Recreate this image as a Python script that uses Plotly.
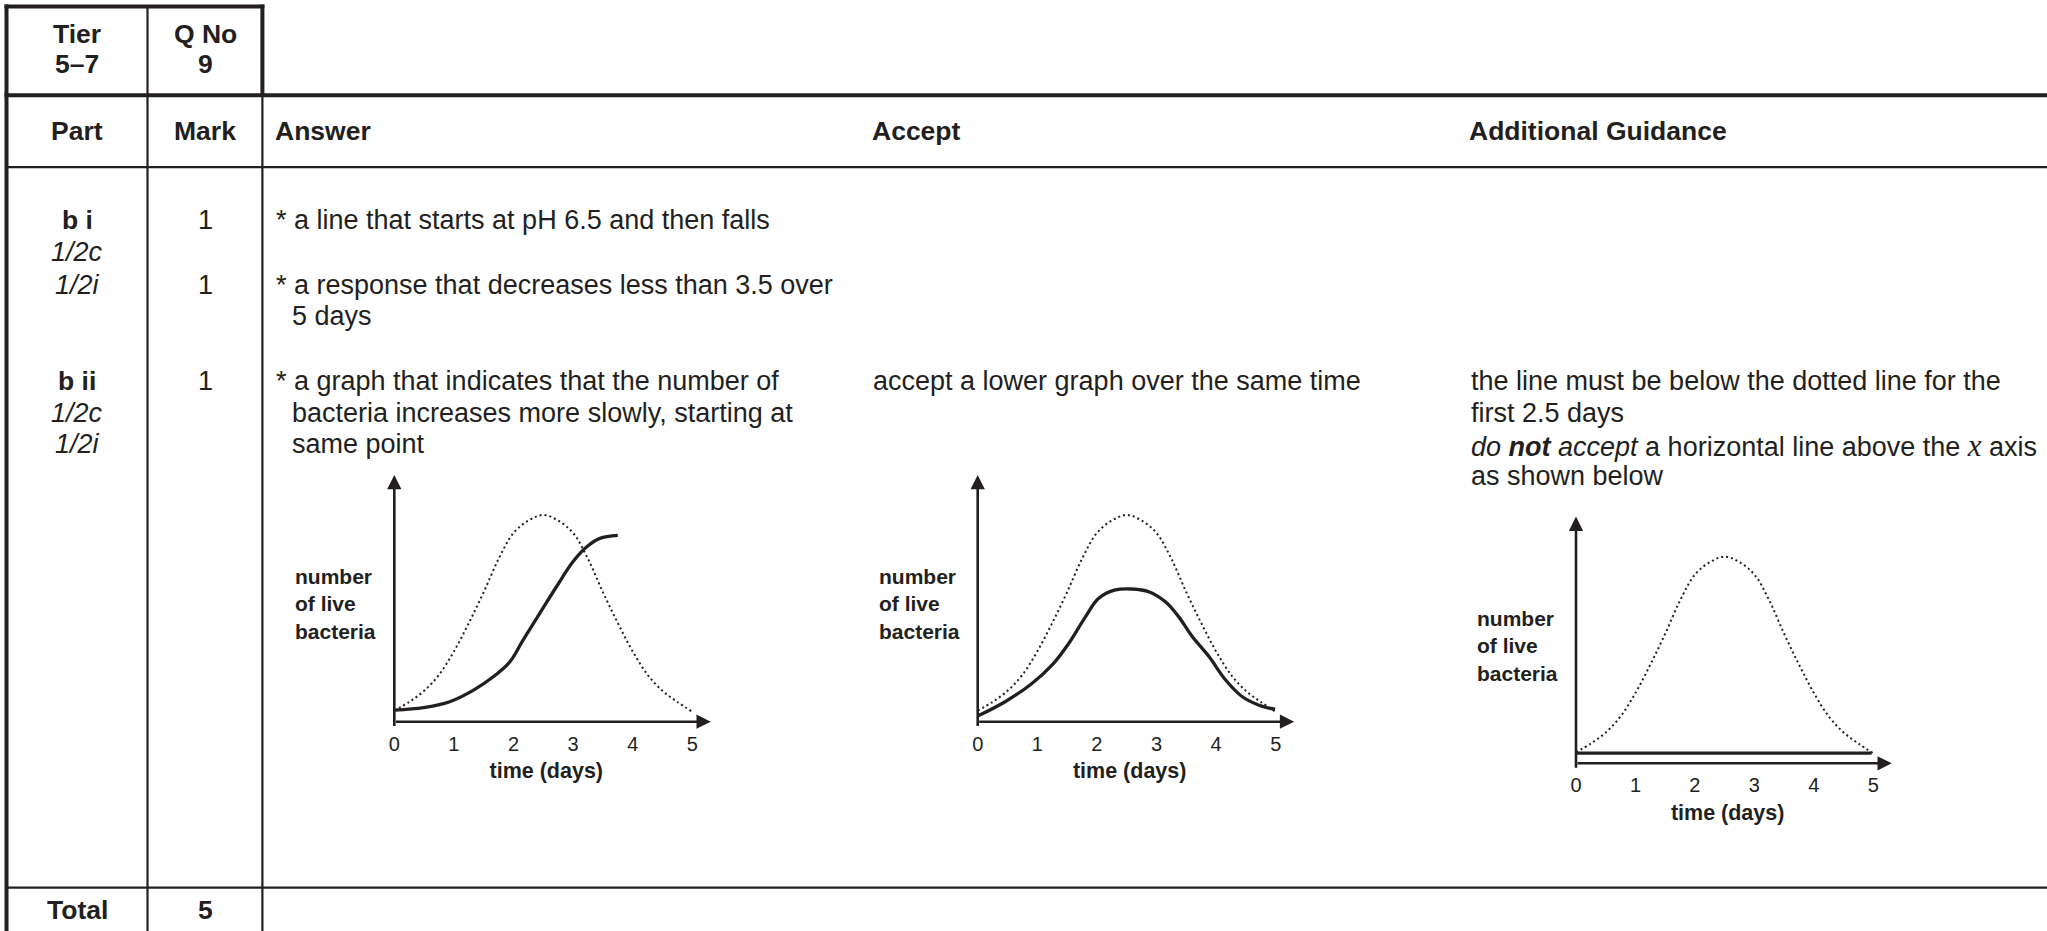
import plotly.graph_objects as go

W, H = 2047, 931
INK = "#231f20"
FONT = "Liberation Sans, Arial, Helvetica, sans-serif"

# ---------------- data ----------------
DAYS = [0, 1, 2, 3, 4, 5]
DAY_LABELS = ["0", "1", "2", "3", "4", "5"]

# dotted reference curve (same in all three sketches)
DOT_X = [0, 0.25, 0.5, 0.75, 1.0, 1.25, 1.5, 1.75, 2.0, 2.25, 2.5,
         2.75, 3.0, 3.25, 3.5, 3.75, 4.0, 4.25, 4.5, 4.75, 5.0]
DOT_Y = [0.45, 0.8, 1.25, 1.9, 2.85, 4.0, 5.25, 6.6, 7.65, 8.15, 8.38,
         8.15, 7.65, 6.6, 5.25, 4.0, 2.85, 1.9, 1.25, 0.8, 0.4]

# solid answer curves
S1_X = [0, 0.49, 0.93, 1.33, 1.66, 1.94, 2.16, 2.44, 2.72, 3.0, 3.23, 3.45, 3.75]
S1_Y = [0.47, 0.57, 0.81, 1.28, 1.82, 2.43, 3.31, 4.39, 5.47, 6.49, 7.09, 7.43, 7.55]

S2_X = [0, 0.46, 0.91, 1.25, 1.53, 1.81, 2.03, 2.31, 2.59, 2.87, 3.15, 3.37,
        3.6, 3.88, 4.16, 4.44, 4.71, 4.99]
S2_Y = [0.23, 0.81, 1.55, 2.3, 3.18, 4.26, 5.0, 5.34, 5.38, 5.27, 4.86, 4.26,
        3.45, 2.64, 1.69, 1.01, 0.68, 0.5]

S3_X = [0, 4.97]
S3_Y = [0.41, 0.41]

X_ARROW_END = 5.31
Y_ARROW_TOP = 10
Y_AXIS_BOTTOM = -0.24

# ---------------- helpers ----------------
def px(x):
    return x / W


def py(y):
    return 1 - y / H


fig = go.Figure()
shapes = []
ann = []


def hline(y, x0, x1, w):
    shapes.append(dict(type="line", xref="paper", yref="paper",
                       x0=px(x0), x1=px(x1), y0=py(y), y1=py(y),
                       line=dict(color=INK, width=w)))


def vline(x, y0, y1, w):
    shapes.append(dict(type="line", xref="paper", yref="paper",
                       x0=px(x), x1=px(x), y0=py(y0), y1=py(y1),
                       line=dict(color=INK, width=w)))


def txt(s, x, y, anchor="left", size=27):
    ann.append(dict(text=s, x=px(x), y=py(y), xref="paper", yref="paper",
                    xanchor=anchor, yanchor="middle", showarrow=False,
                    align="left", font=dict(family=FONT, size=size, color=INK)))


# ---------------- table grid ----------------
THICK, THIN = 4, 2.2
L, T = 6.5, 6.5
C1, C2 = 147.5, 262.4
R1, R2, R3 = 95.3, 167.1, 887.7

vline(L, T - 2, H, THICK)
hline(T, L - 2, C2 + 2, THICK)
vline(C2, T - 2, R1, THICK)
vline(C2, R1, H, THIN)
vline(C1, T, H, THIN)
hline(R1, L - 2, W, THICK)
hline(R2, L, W, THIN)
hline(R3, L, W, THIN)

# ---------------- table text ----------------
HB = 26.5
txt("<b>Tier</b>", 77, 34, "center", HB)
txt("<b>5–7</b>", 77, 64, "center", HB)
txt("<b>Q No</b>", 205, 34, "center", HB)
txt("<b>9</b>", 205, 64, "center", HB)

txt("<b>Part</b>", 77, 131, "center", HB)
txt("<b>Mark</b>", 205, 131, "center", HB)
txt("<b>Answer</b>", 273, 131, "left", HB)
txt("<b>Accept</b>", 870, 131, "left", HB)
txt("<b>Additional Guidance</b>", 1467, 131, "left", HB)

txt("<b>b i</b>", 77, 220, "center", HB)
txt("<i>1/2c</i>", 77, 252, "center")
txt("<i>1/2i</i>", 77, 285, "center")
txt("1", 205, 220, "center")
txt("1", 205, 285, "center")
txt("* a line that starts at pH 6.5 and then falls", 274, 220)
txt("* a response that decreases less than 3.5 over", 274, 285)
txt("5 days", 290, 316)

txt("<b>b ii</b>", 77, 381, "center", HB)
txt("<i>1/2c</i>", 77, 413, "center")
txt("<i>1/2i</i>", 77, 444, "center")
txt("1", 205, 381, "center")
txt("* a graph that indicates that the number of", 274, 381)
txt("bacteria increases more slowly, starting at", 290, 413)
txt("same point", 290, 444)

txt("accept a lower graph over the same time", 871, 381)

txt("the line must be below the dotted line for the", 1469, 381)
txt("first 2.5 days", 1469, 413)
txt("<i>do <b>not</b> accept</i> a horizontal line above the "
    "<i><span style=\"font-family:'Liberation Serif','Times New Roman',serif;font-size:31px\">x</span></i> axis",
    1469, 445)
txt("as shown below", 1469, 476)

txt("<b>Total</b>", 77, 910, "center", HB)
txt("<b>5</b>", 205, 910, "center", HB)

# ---------------- sketches ----------------
UPX = 24.67          # pixels per y unit
XR = [-0.9, 6.0]
YR = [0, 11]

charts = [
    dict(x0=394.3, dpx=59.6, y0=721.7, sx=S1_X, sy=S1_Y, lx=293.3, ly=604),
    dict(x0=977.7, dpx=59.6, y0=721.7, sx=S2_X, sy=S2_Y, lx=876.7, ly=604),
    dict(x0=1576.0, dpx=59.47, y0=763.3, sx=S3_X, sy=S3_Y, lx=1475, ly=645.7),
]

for i, c in enumerate(charts, start=1):
    sfx = "" if i == 1 else str(i)
    xn, yn = "x" + sfx, "y" + sfx
    dx = [px(c["x0"] + XR[0] * c["dpx"]), px(c["x0"] + XR[1] * c["dpx"])]
    dy = [py(c["y0"]), py(c["y0"] - YR[1] * UPX)]
    fig.layout["xaxis" + sfx] = dict(
        domain=dx, range=XR, anchor=yn, showgrid=False, zeroline=False,
        showline=False, ticks="", tickvals=DAYS, ticktext=DAY_LABELS,
        ticklabelstandoff=8,
        tickfont=dict(family=FONT, size=20, color=INK),
        title=dict(text="<b>time (days)</b>", standoff=9,
                   font=dict(family=FONT, size=21.5, color=INK)),
        fixedrange=True)
    fig.layout["yaxis" + sfx] = dict(
        domain=dy, range=YR, anchor=xn, showgrid=False, zeroline=False,
        showline=False, showticklabels=False, ticks="", fixedrange=True)

    fig.add_trace(go.Scatter(x=DOT_X, y=DOT_Y, mode="lines", xaxis=xn, yaxis=yn,
                             line=dict(color=INK, width=2, dash="2px,3px",
                                       shape="spline", smoothing=1.0),
                             hoverinfo="skip", showlegend=False))
    fig.add_trace(go.Scatter(x=c["sx"], y=c["sy"], mode="lines", xaxis=xn, yaxis=yn,
                             line=dict(color=INK, width=3.3, shape="spline",
                                       smoothing=1.0),
                             hoverinfo="skip", showlegend=False))

    # axis arrows
    ann.append(dict(x=X_ARROW_END, y=0, ax=0, ay=0, xref=xn, yref=yn,
                    axref=xn, ayref=yn, showarrow=True, arrowhead=2,
                    arrowsize=1.1, arrowwidth=2.6, arrowcolor=INK, text="",
                    standoff=0))
    ann.append(dict(x=0, y=Y_ARROW_TOP, ax=0, ay=Y_AXIS_BOTTOM, xref=xn, yref=yn,
                    axref=xn, ayref=yn, showarrow=True, arrowhead=2,
                    arrowsize=1.1, arrowwidth=2.6, arrowcolor=INK, text="",
                    standoff=0))
    # y label
    ann.append(dict(text="<b>number<br>of live<br>bacteria</b>", x=px(c["lx"]),
                    y=py(c["ly"]), xref="paper", yref="paper", xanchor="left",
                    yanchor="middle", align="left", showarrow=False,
                    font=dict(family=FONT, size=21, color=INK)))

fig.update_layout(width=W, height=H, margin=dict(l=0, r=0, t=0, b=0),
                  paper_bgcolor="white", plot_bgcolor="rgba(0,0,0,0)",
                  shapes=shapes, annotations=ann, showlegend=False)

fig.write_html("out.html", config={"displayModeBar": False},
               post_script="document.body.style.margin='0';"
                           "document.body.style.overflow='hidden';")
